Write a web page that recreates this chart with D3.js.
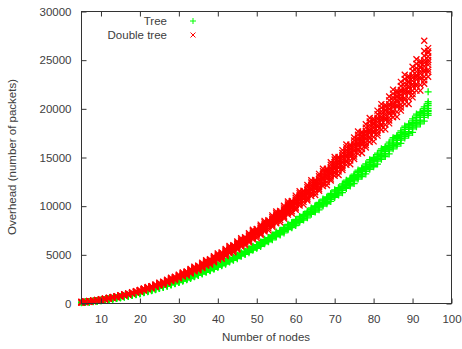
<!DOCTYPE html>
<html>
<head>
<meta charset="utf-8">
<script src="https://cdn.jsdelivr.net/npm/d3@7"></script>
<style>
body{margin:0;background:#fff;}
text{font-family:"Liberation Sans",Arial,sans-serif;font-size:11.5px;fill:#404040;}
</style>
</head>
<body>
<script>
//number of nodes (x values)
var nodes = [5,6,7,8,9,10,11,12,13,14,15,16,17,18,19,20,21,22,23,24,25,26,27,28,29,30,31,32,33,34,35,36,37,38,39,40,
    41,42,43,44,45,46,47,48,49,50,51,52,53,54,55,56,57,58,59,60,61,62,63,64,65,66,67,68,69,70,71,72,73,74,75,76,77,78,79,80,
    81,82,83,84,85,86,87,88,89,90,91,92,93,94];

//overhead samples for each node count
var treeSamples = [
    [70,90,105,120,135,100,110],[100,120,140,155,175,130,145],[135,160,180,195,215,170,185],[175,200,220,240,260,210,230],[220,245,265,285,310,255,275],
    [270,295,320,340,360,305,330],[320,350,375,395,420,360,385],[380,410,435,455,480,420,445],[440,470,500,520,545,485,510],[505,540,565,590,615,550,575],
    [575,610,640,665,695,620,650],[650,685,715,740,770,700,725],[730,765,795,825,855,780,810],[810,850,880,910,940,860,895],[895,935,970,1000,1035,950,985],
    [985,1030,1065,1095,1135,1030,1060,1080],[1110,1140,1160,1180,1200,1150,1170,1190],[1220,1250,1270,1290,1310,1240,1250,1300],[1320,1350,1380,1400,1410,1330,1370,1390],[1420,1450,1480,1500,1530,1460,1490,1510],
    [1550,1580,1600,1630,1660,1560,1590,1640],[1650,1690,1730,1760,1760,1670,1710,1740],[1760,1800,1840,1870,1900,1820,1860,1880],[1910,1950,1980,2010,2050,1930,1960,2020],[2020,2070,2120,2150,2160,2050,2100,2140],
    [2150,2190,2240,2270,2310,2210,2260,2290],[2310,2350,2390,2420,2470,2330,2360,2450],[2430,2480,2550,2590,2600,2460,2520,2570],[2560,2620,2670,2710,2760,2640,2700,2740],[2740,2800,2840,2880,2940,2770,2810,2910],
    [2880,2940,3010,3060,3070,2910,2980,3040],[3020,3080,3150,3190,3260,3110,3180,3220],[3210,3280,3330,3380,3450,3250,3300,3410],[3360,3430,3520,3570,3590,3400,3490,3550],[3510,3590,3660,3720,3790,3620,3700,3750],
    [3730,3800,3860,3920,3990,3760,3820,3960],[3880,3960,4060,4130,4150,3920,4020,4100],[4040,4130,4210,4280,4360,4170,4260,4320],[4270,4360,4430,4490,4580,4320,4380,4540],[4440,4530,4650,4720,4740,4490,4600,4680],
    [4610,4710,4800,4880,4970,4760,4850,4920],[4860,4960,5030,5110,5210,4910,4980,5160],[5040,5140,5270,5350,5380,5090,5220,5310],[5220,5330,5430,5520,5620,5380,5490,5570],[5480,5600,5680,5770,5880,5540,5620,5820],
    [5670,5790,5930,6020,6050,5730,5880,5980],[5860,5980,6100,6190,6320,6040,6160,6250],[6140,6270,6370,6460,6590,6210,6300,6520],[6340,6470,6640,6730,6770,6400,6570,6690],[6540,6670,6810,6910,7050,6740,6880,6980],
    [6840,6980,7090,7200,7340,6910,7020,7270],[7050,7190,7380,7490,7520,7120,7300,7430],[7250,7400,7560,7670,7820,7480,7630,7740],[7580,7740,7850,7970,8130,7660,7770,8050],[7790,7950,8160,8280,8320,7870,8070,8220],
    [8010,8170,8340,8470,8630,8260,8420,8550],[8350,8520,8650,8780,8950,8440,8570,8870],[8570,8750,8970,9110,9150,8660,8890,9050],[8800,8980,9160,9300,9480,9070,9250,9390],[9160,9350,9490,9630,9820,9260,9400,9730],
    [9390,9590,9830,9980,10030,9490,9730,9910],[9620,9820,10020,10180,10380,9920,10130,10280],[10010,10220,10370,10530,10730,10110,10270,10630],[10250,10460,10730,10890,10940,10360,10620,10810],[10490,10710,10930,11090,11310,10820,11040,11200],
    [10900,11120,11290,11460,11680,11010,11180,11570],[11140,11380,11660,11840,11890,11260,11550,11760],[11390,11630,11870,12040,12280,11750,11980,12160],[11820,12070,12250,12430,12670,11940,12130,12550],[12080,12330,12640,12830,12890,12200,12510,12740],
    [12330,12590,12840,13040,13290,12720,12970,13170],[12780,13050,13240,13440,13710,12910,13110,13570],[13040,13310,13650,13860,13920,13180,13520,13760],[13310,13580,13860,14070,14350,13720,14000,14210],[13780,14070,14280,14490,14780,13920,14140,14630],
    [14050,14340,14710,14920,15000,14200,14560,14820],[14320,14620,14920,15140,15440,14770,15070,15290],[14820,15120,15350,15580,15890,14970,15200,15740],[15090,15410,15800,16030,16110,15250,15640,15920],[15370,15690,16010,16250,16570,15850,16170,16410],
    [15890,16220,16470,16710,17040,16060,16300,16880],[16170,16510,16930,17180,17260,16340,16760,17060],[16460,16800,17140,17400,17740,16970,17310,17570],[17000,17360,17620,17880,18230,17180,17440,18060],[17290,17650,18100,18370,18460,17470,17920,18240],
    [17580,17950,18320,18590,18960,18130,18500,18770],[18150,18530,18810,19090,19460,18340,18620,19280],[18450,18830,19310,19600,19690,18640,19120,19460],[18740,19130,19520,19820,20210,19330,19720,20010],[19340,19740,20040,20340,20730,21750,19540,19840,20540]
];

var doubleTreeSamples = [
    [100,120,130,140,150,165,125,145],[140,160,165,175,185,200,155,180],[180,200,215,225,240,255,205,230],[230,255,270,285,295,310,260,280],[285,310,320,335,350,370,300,345],
    [345,365,385,400,420,440,375,395],[405,440,460,475,485,505,450,470],[480,510,525,540,560,590,520,550],[560,580,605,625,650,670,595,615],[630,670,695,715,720,745,680,705],
    [720,755,770,790,815,850,765,800],[815,840,875,895,925,945,860,885],[900,950,980,1000,1010,1030,960,990],[1010,1050,1070,1100,1120,1170,1060,1090],[1130,1150,1190,1210,1250,1270,1170,1230],
    [1210,1280,1310,1340,1350,1380,1245,1290,1325,1370],[1340,1380,1410,1450,1480,1540,1360,1420,1470,1510],[1470,1500,1550,1580,1630,1660,1520,1570,1610,1690],[1560,1650,1690,1730,1740,1780,1600,1660,1710,1770],[1710,1760,1800,1850,1890,1960,1740,1820,1870,1930],
    [1860,1900,1960,2000,2060,2100,1920,1980,2030,2140],[1960,2070,2120,2170,2180,2230,2010,2090,2140,2210],[2120,2190,2240,2290,2350,2440,2160,2260,2330,2400],[2300,2350,2420,2470,2540,2590,2370,2440,2500,2640],[2400,2530,2590,2660,2670,2740,2470,2560,2620,2710],
    [2580,2670,2720,2790,2860,2970,2630,2750,2830,2910],[2780,2830,2920,2980,3070,3130,2860,2950,3020,3190],[2880,3040,3120,3190,3210,3290,2960,3070,3150,3260],[3090,3190,3250,3330,3420,3550,3140,3290,3380,3480],[3300,3370,3480,3540,3650,3720,3410,3510,3600,3790],
    [3410,3600,3690,3780,3800,3890,3510,3630,3730,3850],[3640,3750,3830,3930,4020,4180,3700,3870,3990,4100],[3870,3950,4080,4160,4280,4360,3990,4120,4220,4440],[3990,4200,4310,4420,4440,4540,4090,4240,4350,4500],[4230,4370,4460,4570,4680,4860,4300,4500,4640,4770],
    [4490,4580,4720,4820,4960,5050,4630,4770,4890,5150],[4600,4850,4980,5100,5120,5250,4730,4900,5020,5200],[4870,5030,5130,5260,5390,5600,4950,5180,5340,5490],[5150,5260,5420,5530,5690,5800,5310,5470,5610,5910],[5260,5550,5690,5830,5860,6000,5410,5600,5750,5940],
    [5550,5730,5850,6000,6150,6380,5640,5910,6090,6260],[5850,5980,6160,6280,6470,6590,6040,6220,6380,6720],[5970,6290,6450,6610,6640,6800,6130,6360,6520,6740],[6280,6480,6620,6780,6950,7220,6380,6680,6890,7090],[6600,6740,6950,7090,7300,7440,6810,7020,7200,7580],
    [6720,7080,7260,7440,7480,7660,6900,7150,7330,7590],[7050,7280,7430,7620,7800,8100,7170,7510,7730,7960],[7400,7560,7790,7950,8180,8340,7640,7870,8060,8490],[7510,7920,8120,8320,8360,8560,7720,8000,8200,8480],[7870,8120,8290,8500,8710,9050,8000,8380,8630,8880],
    [8240,8420,8680,8850,9110,9280,8500,8760,8980,9460],[8350,8800,9030,9250,9300,9520,8580,8890,9120,9430],[8740,9010,9200,9430,9670,10040,8880,9290,9570,9850],[9130,9320,9610,9800,10090,10280,9420,9710,9950,10480],[9240,9730,9980,10230,10280,10530,9480,9830,10080,10430],
    [9640,9950,10160,10410,10670,11080,9800,10260,10570,10870],[10060,10270,10590,10800,11120,11330,10380,10700,10960,11540],[10160,10710,10980,11260,11310,11590,10440,10820,11090,11480],[10590,10930,11160,11440,11720,12170,10760,11270,11610,11950],[11040,11270,11620,11850,12200,12430,11390,11740,12030,12670],
    [11140,11730,12030,12330,12390,12690,11430,11850,12150,12570],[11590,11960,12210,12520,12820,13320,11780,12330,12700,13070],[12060,12310,12700,12950,13330,13580,12440,12820,13140,13840],[12150,12800,13130,13460,13520,13850,12480,12930,13260,13720],[12630,13040,13310,13640,13980,14510,12830,13440,13840,14250],
    [13130,13400,13820,14100,14510,14790,13540,13960,14300,15060],[13210,13920,14280,14630,14700,15060,13570,14060,14420,14910],[13720,14160,14450,14810,15180,15760,13940,14600,15030,15470],[14240,14540,14990,15290,15740,16040,14690,15140,15520,16340],[14310,15080,15470,15850,15930,16310,14700,15240,15620,16160],
    [14850,15320,15640,16040,16430,17060,15090,15800,16270,16750],[15400,15720,16210,16530,17020,17340,15880,16370,16780,17670],[15460,16290,16710,17130,17210,17620,15880,16460,16880,17460],[16030,16540,16880,17310,17730,18410,16280,17050,17560,18070],[16600,16950,17480,17830,18350,18700,17130,17650,18090,19050],
    [16660,17550,18000,18450,18540,18980,17100,17730,18180,18800],[17250,17800,18160,18620,19080,19820,17520,18350,18900,19450],[17850,18230,18790,19170,19730,20110,18420,18980,19450,20480],[17890,18850,19330,19820,19910,20390,18370,19050,19530,20200],[18510,19100,19500,19990,20480,21270,18810,19690,20280,20870],
    [19140,19550,20150,20560,21160,21560,19750,20350,20860,21970],[19170,20200,20720,21230,21340,21850,19690,20410,20930,21650],[19820,20450,20880,21400,21930,22770,20140,21090,21720,22350],[20480,20920,21560,21990,22640,23070,21130,21780,22320,23500],[20500,21600,22150,22700,22810,23370,21050,21820,22370,23140],
    [21180,21850,22300,22870,23430,24330,21510,22530,23200,23880],[21870,22330,23020,23480,24170,24630,22560,23250,23820,25090],[21870,23050,23630,24220,24340,24930,22460,23280,23870,24690],[22580,23300,23780,24380,24980,25940,27000,22940,24020,24740,25460],[23300,23790,24520,25010,25750,26240,24030,24770,25380,25900]
];

var xTicks = [10,20,30,40,50,60,70,80,90,100];
var yTicks = [0,5000,10000,15000,20000,25000,30000];
var seriesNames = ["Tree", "Double tree"];

var width = 462,
    height = 349;

var svg = d3.select("body")
    .append("svg")
    .attr("width", width)
    .attr("height", height);

//scales for the plot frame
var x = d3.scaleLinear()
    .domain([5, 100])
    .range([81.5, 451.5]);

var y = d3.scaleLinear()
    .domain([0, 30000])
    .range([303.5, 11.5]);

var plusPath = "M-3.5,0H3.5M0,-3.5V3.5",
    crossPath = "M-3,-3L3,3M-3,3L3,-3";

//flatten samples into points
function toPoints(samples){
    var pts = [];
    nodes.forEach(function(n, i){
        samples[i].forEach(function(v){
            pts.push({n: n, v: v});
        });
    });
    return pts;
};

//tree points (green plus)
svg.append("g")
    .selectAll("path")
    .data(toPoints(treeSamples))
    .enter()
    .append("path")
    .attr("d", plusPath)
    .attr("transform", function(d){ return "translate(" + x(d.n) + "," + y(d.v) + ")"; })
    .attr("stroke", "#00ff00")
    .attr("stroke-width", 1.3)
    .attr("fill", "none");

//double tree points (red cross)
svg.append("g")
    .selectAll("path")
    .data(toPoints(doubleTreeSamples))
    .enter()
    .append("path")
    .attr("d", crossPath)
    .attr("transform", function(d){ return "translate(" + x(d.n) + "," + y(d.v) + ")"; })
    .attr("stroke", "#ff0000")
    .attr("stroke-width", 1.3)
    .attr("fill", "none");

//axes, ticks pointing inwards like gnuplot
svg.append("g")
    .attr("transform", "translate(0,303.5)")
    .call(d3.axisBottom(x).tickValues(xTicks).tickSize(-5).tickPadding(11).tickFormat(d3.format("d")));

svg.append("g")
    .attr("transform", "translate(0,11.5)")
    .call(d3.axisTop(x).tickValues(xTicks).tickSize(-5).tickFormat(""));

svg.append("g")
    .attr("transform", "translate(81.5,0)")
    .call(d3.axisLeft(y).tickValues(yTicks).tickSize(-5).tickPadding(10).tickFormat(d3.format("d")));

svg.append("g")
    .attr("transform", "translate(451.5,0)")
    .call(d3.axisRight(y).tickValues(yTicks).tickSize(-5).tickFormat(""));

svg.selectAll(".domain").remove();
svg.selectAll(".tick line").attr("stroke", "#333");
svg.selectAll(".tick text")
    .attr("fill", "#404040")
    .style("font-family", "'Liberation Sans',Arial,sans-serif")
    .style("font-size", "11.5px");

//plot border
svg.append("rect")
    .attr("x", 81.5)
    .attr("y", 11.5)
    .attr("width", 370)
    .attr("height", 292)
    .attr("fill", "none")
    .attr("stroke", "#333");

//legend
var legend = svg.append("g");
legend.append("text").attr("x", 167).attr("y", 25).attr("text-anchor", "end").text(seriesNames[0]);
legend.append("text").attr("x", 167).attr("y", 39).attr("text-anchor", "end").text(seriesNames[1]);
legend.append("path").attr("d", "M-3,0H3M0,-3V3").attr("transform", "translate(193,21)")
    .attr("stroke", "#00ff00").attr("fill", "none");
legend.append("path").attr("d", "M-2.5,-2.5L2.5,2.5M-2.5,2.5L2.5,-2.5").attr("transform", "translate(193,35)")
    .attr("stroke", "#ff0000").attr("fill", "none");

//axis titles
svg.append("text")
    .attr("x", 266)
    .attr("y", 341)
    .attr("text-anchor", "middle")
    .text("Number of nodes");

svg.append("text")
    .attr("transform", "translate(16,157) rotate(-90)")
    .attr("text-anchor", "middle")
    .text("Overhead (number of packets)");
</script>
</body>
</html>
